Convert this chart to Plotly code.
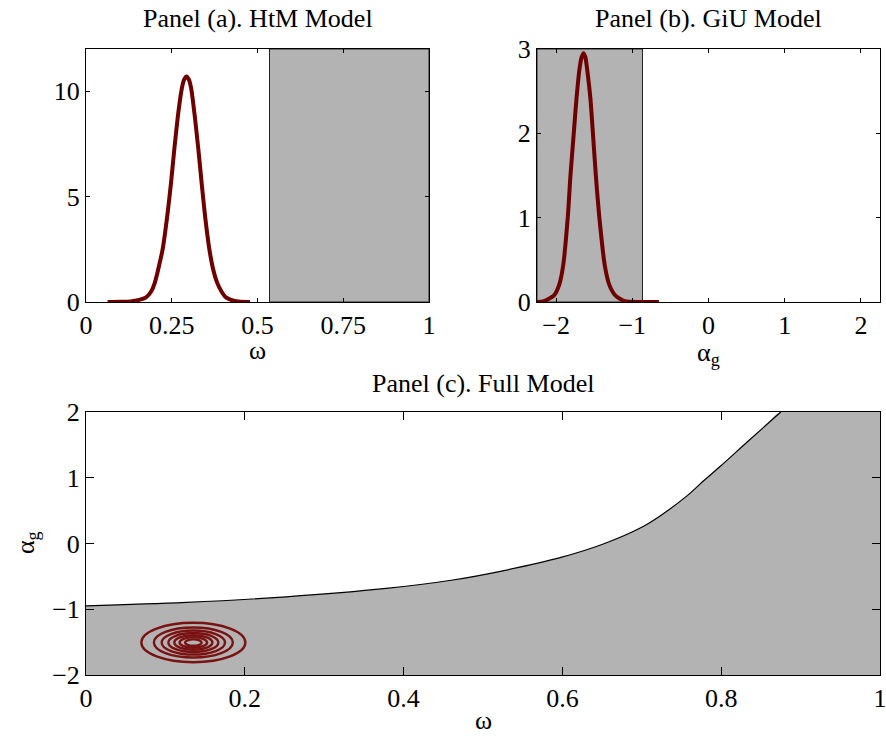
import plotly.graph_objects as go

W, H = 886, 737

# ---------------- data ----------------
# Panel (a): HtM model posterior of omega
htm_omega = [0.063, 0.10, 0.13, 0.155, 0.175, 0.19, 0.201, 0.2235, 0.237, 0.248, 0.2575,
             0.268, 0.279, 0.286, 0.293, 0.300, 0.307, 0.317, 0.3275, 0.337, 0.347, 0.3596,
             0.37, 0.382, 0.395, 0.408, 0.43, 0.45, 0.478]
htm_density = [0.0, 0.01, 0.03, 0.1, 0.22, 0.5, 0.93, 2.51, 4.09, 5.67, 7.25,
               8.83, 10.1, 10.55, 10.7, 10.55, 10.1, 8.83, 7.25, 5.67, 4.09, 2.51,
               1.6, 0.93, 0.5, 0.22, 0.06, 0.01, 0.0]
htm_region = [0.535, 1.0]          # shaded omega interval
htm_xrange = [0.0, 1.0]
htm_yrange = [0.0, 12.0]
htm_xticks = [0, 0.25, 0.5, 0.75, 1]
htm_xticklabels = ["0", "0.25", "0.5", "0.75", "1"]
htm_yticks = [0, 5, 10]

# Panel (b): GiU model posterior of alpha_g
giu_alpha = [-2.25, -2.16, -2.03, -1.96, -1.907, -1.845, -1.811, -1.767, -1.732, -1.693,
             -1.665, -1.64, -1.615, -1.592, -1.549, -1.517, -1.478, -1.434, -1.36, -1.30,
             -1.22, -1.10, -0.9, -0.65]
giu_density = [0.0, 0.01, 0.075, 0.2, 0.43, 1.02, 1.5, 2.01, 2.41, 2.76,
               2.9, 2.95, 2.9, 2.76, 2.41, 2.01, 1.5, 1.02, 0.43, 0.2,
               0.075, 0.01, 0.0, 0.0]
giu_region = [-2.25, -0.866]       # shaded alpha_g interval
giu_xrange = [-2.25, 2.25]
giu_yrange = [0.0, 3.0]
giu_xticks = [-2, -1, 0, 1, 2]
giu_yticks = [0, 1, 2, 3]

# Panel (c): Full model, boundary of the shaded region
full_bound_omega = [0.0, 0.126, 0.252, 0.378, 0.462, 0.525, 0.597, 0.6515, 0.698, 0.723,
                    0.7565, 0.7775, 0.7985, 0.832, 0.857, 0.875]
full_bound_alpha = [-0.948, -0.896, -0.811, -0.683, -0.555, -0.415, -0.216, -0.008, 0.235, 0.42,
                    0.72, 0.95, 1.17, 1.535, 1.805, 2.0]
full_xrange = [0.0, 1.0]
full_yrange = [-2.0, 2.0]
full_xticks = [0, 0.2, 0.4, 0.6, 0.8, 1]
full_yticks = [-2, -1, 0, 1, 2]
# posterior contour rings (centre + semi-axes)
ring_center = [0.1352, -1.506]
ring_omega_half = [0.0655, 0.0497, 0.0399, 0.0315, 0.024, 0.0174, 0.0105]
ring_alpha_half = [0.300, 0.228, 0.183, 0.144, 0.110, 0.080, 0.048]

# ---------------- styling ----------------
GRAY = "#b3b3b3"
CURVE = "#6e0000"
RING = "#7a1212"
FONT = "Liberation Serif"

def px_x(p):
    return p / W

def px_y(p):
    return 1 - p / H

fig = go.Figure()

# Panel (a)
fig.add_trace(go.Scatter(
    x=[htm_region[0], htm_region[1], htm_region[1], htm_region[0], htm_region[0]],
    y=[htm_yrange[0], htm_yrange[0], htm_yrange[1], htm_yrange[1], htm_yrange[0]],
    fill="toself", fillcolor=GRAY, mode="lines",
    line=dict(color="#222222", width=1), xaxis="x", yaxis="y", hoverinfo="skip"))
fig.add_trace(go.Scatter(
    x=htm_omega, y=htm_density, mode="lines",
    line=dict(color=CURVE, width=4, shape="spline", smoothing=0.6),
    xaxis="x", yaxis="y"))

# Panel (b)
fig.add_trace(go.Scatter(
    x=[giu_region[0], giu_region[1], giu_region[1], giu_region[0], giu_region[0]],
    y=[giu_yrange[0], giu_yrange[0], giu_yrange[1], giu_yrange[1], giu_yrange[0]],
    fill="toself", fillcolor=GRAY, mode="lines",
    line=dict(color="#222222", width=1), xaxis="x2", yaxis="y2", hoverinfo="skip"))
fig.add_trace(go.Scatter(
    x=giu_alpha, y=giu_density, mode="lines",
    line=dict(color=CURVE, width=4, shape="spline", smoothing=0.6),
    xaxis="x2", yaxis="y2"))

# Panel (c)
fig.add_trace(go.Scatter(
    x=full_bound_omega + [full_xrange[1], full_xrange[1], full_xrange[0]],
    y=full_bound_alpha + [full_yrange[1], full_yrange[0], full_yrange[0]],
    fill="toself", fillcolor=GRAY, mode="lines",
    line=dict(color=GRAY, width=0, shape="spline", smoothing=1.0),
    xaxis="x3", yaxis="y3", hoverinfo="skip"))
fig.add_trace(go.Scatter(
    x=full_bound_omega, y=full_bound_alpha, mode="lines",
    line=dict(color="black", width=1.2, shape="spline", smoothing=1.0),
    xaxis="x3", yaxis="y3"))

shapes = []
for wh, ah in zip(ring_omega_half, ring_alpha_half):
    shapes.append(dict(type="circle", xref="x3", yref="y3",
                       x0=ring_center[0] - wh, x1=ring_center[0] + wh,
                       y0=ring_center[1] - ah, y1=ring_center[1] + ah,
                       line=dict(color=RING, width=2.4), layer="above"))

axis_common = dict(showline=True, linecolor="black", linewidth=1, mirror="ticks",
                   ticks="inside", tickcolor="black", showgrid=False, zeroline=False,
                   automargin=False, ticklabeloverflow="allow",
                   tickfont=dict(family=FONT, size=26, color="black"))

fig.update_layout(
    width=W, height=H,
    margin=dict(l=0, r=0, t=0, b=0),
    paper_bgcolor="white", plot_bgcolor="white",
    showlegend=False,
    font=dict(family=FONT, size=26, color="black"),
    shapes=shapes,
    xaxis=dict(domain=[px_x(86), px_x(429)], range=htm_xrange, anchor="y",
               tickvals=htm_xticks, ticktext=htm_xticklabels, ticklen=4,
               ticklabelstandoff=0, **axis_common),
    yaxis=dict(domain=[px_y(302), px_y(49)], range=htm_yrange, anchor="x",
               tickvals=htm_yticks, ticklen=4, ticklabelstandoff=0, **axis_common),
    xaxis2=dict(domain=[px_x(537), px_x(880)], range=giu_xrange, anchor="y2",
                tickvals=giu_xticks, ticklen=4, ticklabelstandoff=0, **axis_common),
    yaxis2=dict(domain=[px_y(302), px_y(49)], range=giu_yrange, anchor="x2",
                tickvals=giu_yticks, ticklen=4, ticklabelstandoff=0, **axis_common),
    xaxis3=dict(domain=[px_x(86), px_x(880)], range=full_xrange, anchor="y3",
                tickvals=full_xticks, ticklen=8, ticklabelstandoff=0, **axis_common),
    yaxis3=dict(domain=[px_y(675), px_y(412)], range=full_yrange, anchor="x3",
                tickvals=full_yticks, ticklen=8, ticklabelstandoff=0, **axis_common),
)

def ann(text, x, y, angle=0):
    fig.add_annotation(text=text, x=px_x(x), y=px_y(y), xref="paper", yref="paper",
                       xanchor="center", yanchor="middle", showarrow=False,
                       textangle=angle, font=dict(family=FONT, size=26, color="black"))

ann("Panel (a). HtM Model", 257.5, 19)
ann("Panel (b). GiU Model", 708.5, 19)
ann("Panel (c). Full Model", 483, 383)
ann("ω", 257.5, 351)
ann("α<sub>g</sub>", 708.5, 354)
ann("ω", 483, 720)
ann("α<sub>g</sub>", 27, 543, angle=-90)

fig.write_html("out.html", config={"displayModeBar": False},
               post_script="document.body.style.margin='0px';document.body.style.overflow='hidden';")
